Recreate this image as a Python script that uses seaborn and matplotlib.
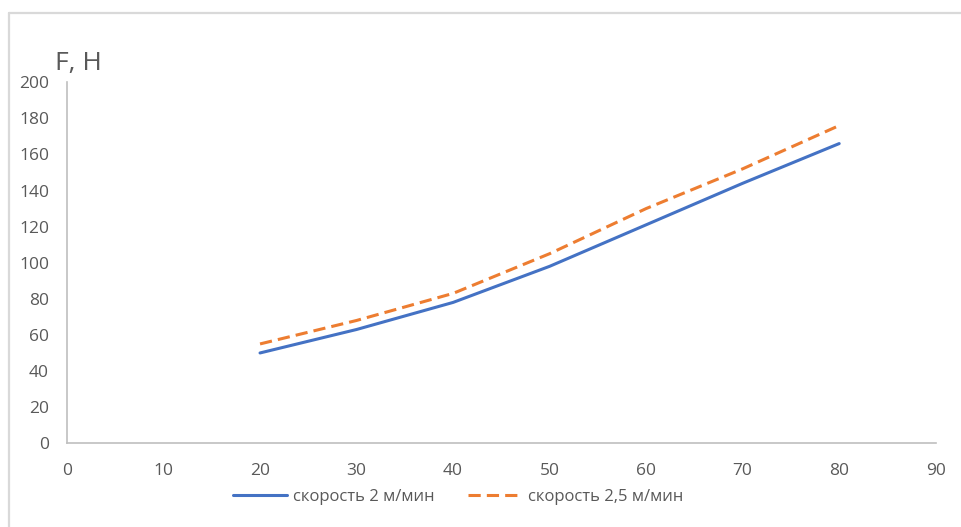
import numpy as np
import pandas as pd
import seaborn as sns
from matplotlib import pyplot as plt
from matplotlib.lines import Line2D

# values
speed_x = [20, 30, 40, 50, 60, 70, 80]
force_2 = [50, 63, 78, 98, 121, 144, 166]
force_25 = [55, 68, 83, 105, 130, 152, 176]
series_names = ["скорость 2 м/мин", "скорость 2,5 м/мин"]
x_ticks = list(range(0, 100, 10))
y_ticks = list(range(0, 220, 20))

df = pd.DataFrame({
    "x": speed_x * 2,
    "F": force_2 + force_25,
    "series": [series_names[0]] * len(speed_x) + [series_names[1]] * len(speed_x),
})

sns.set_style("white")
plt.rcParams["font.family"] = ["Open Sans", "DejaVu Sans"]

fig = plt.figure(figsize=(9.61, 5.27), dpi=100)
ax = fig.add_axes([0.0697, 0.159, 0.904, 0.685])

sns.lineplot(data=df, x="x", y="F", hue="series", style="series",
             palette=["#4472C4", "#ED7D31"], dashes=[(None, None), (4, 2)],
             linewidth=2.2, ax=ax)

ax.set_xlim(0, 90)
ax.set_ylim(0, 200)
ax.set_xticks(x_ticks)
ax.set_yticks(y_ticks)
ax.tick_params(axis="both", colors="#595959", labelsize=12.5, length=0)
ax.tick_params(axis="y", pad=13)
ax.tick_params(axis="x", pad=14)
ax.set_xlabel("")
ax.set_ylabel("")
for side in ["top", "right"]:
    ax.spines[side].set_visible(False)
for side in ["left", "bottom"]:
    ax.spines[side].set_color("#BFBFBF")
    ax.spines[side].set_linewidth(1.2)

fig.text(0.057, 1 - 70 / 527, "F, H", fontsize=19, color="#595959", va="baseline")

handles, labels = ax.get_legend_handles_labels()
ax.legend(handles, labels, loc="center", bbox_to_anchor=(0.477, 0.057),
          bbox_transform=fig.transFigure, ncol=2, frameon=False,
          fontsize=12, labelcolor="#595959", handlelength=3.2, columnspacing=2.0,
          handletextpad=0.4)

# light chart border (top and left edges visible in the original)
border = dict(color="#D9D9D9", linewidth=1.6, transform=fig.transFigure)
fig.lines.append(Line2D([0.0095, 1.0], [1 - 13 / 527] * 2, **border))
fig.lines.append(Line2D([0.0095] * 2, [0.0, 1 - 13 / 527], **border))

fig.savefig("out.png", dpi=100)
